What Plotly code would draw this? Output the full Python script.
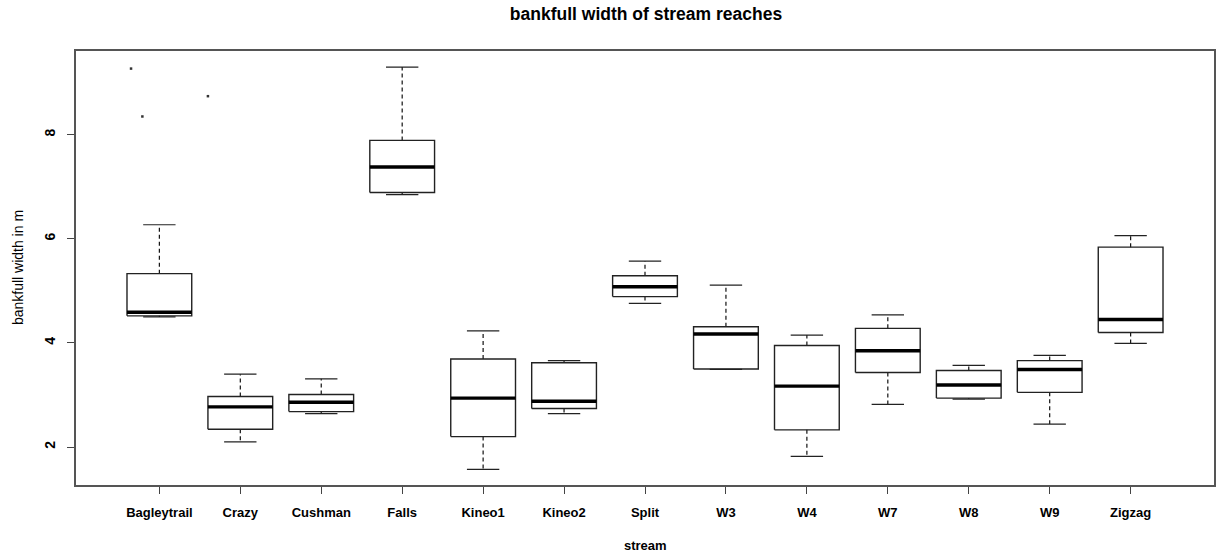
import plotly.graph_objects as go

# Bankfull width (m) summary per stream reach
streams = ["Bagleytrail", "Crazy", "Cushman", "Falls", "Kineo1", "Kineo2", "Split",
           "W3", "W4", "W7", "W8", "W9", "Zigzag"]
lower_whisker = [4.50, 2.10, 2.64, 6.85, 1.57, 2.64, 4.76, 3.49, 1.82, 2.82, 2.92, 2.44, 3.99]
q1 = [4.52, 2.34, 2.68, 6.89, 2.20, 2.74, 4.89, 3.50, 2.33, 3.43, 2.94, 3.05, 4.20]
median = [4.59, 2.77, 2.86, 7.38, 2.94, 2.88, 5.08, 4.17, 3.17, 3.85, 3.19, 3.49, 4.45]
q3 = [5.33, 2.97, 3.01, 7.89, 3.69, 3.62, 5.29, 4.31, 3.95, 4.28, 3.47, 3.66, 5.84]
upper_whisker = [6.27, 3.40, 3.31, 9.30, 4.23, 3.66, 5.57, 5.11, 4.15, 4.54, 3.57, 3.76, 6.06]
y_ticks = [2, 4, 6, 8]

# Stray points above the Bagleytrail / Crazy boxes (x in category units)
stray_x = [0.65, 0.79, 1.60]
stray_y = [9.27, 8.35, 8.74]

positions = list(range(1, len(streams) + 1))
BOX_HALF = 0.4
CAP_HALF = 0.2

box_x, box_y = [], []
med_x, med_y = [], []
wh_x, wh_y = [], []
cap_x, cap_y = [], []
for p, lo, a, m, b, hi in zip(positions, lower_whisker, q1, median, q3, upper_whisker):
    box_x += [p - BOX_HALF, p + BOX_HALF, p + BOX_HALF, p - BOX_HALF, p - BOX_HALF, None]
    box_y += [a, a, b, b, a, None]
    med_x += [p - BOX_HALF, p + BOX_HALF, None]
    med_y += [m, m, None]
    wh_x += [p, p, None, p, p, None]
    wh_y += [b, hi, None, a, lo, None]
    cap_x += [p - CAP_HALF, p + CAP_HALF, None, p - CAP_HALF, p + CAP_HALF, None]
    cap_y += [hi, hi, None, lo, lo, None]

fig = go.Figure()
fig.add_trace(go.Scatter(x=wh_x, y=wh_y, mode="lines",
                         line=dict(color="#111111", width=1.2, dash="4px,3px"),
                         hoverinfo="skip", showlegend=False))
fig.add_trace(go.Scatter(x=cap_x, y=cap_y, mode="lines",
                         line=dict(color="#222222", width=1.2),
                         hoverinfo="skip", showlegend=False))
fig.add_trace(go.Scatter(x=box_x, y=box_y, mode="lines",
                         line=dict(color="#222222", width=1.4),
                         hoverinfo="skip", showlegend=False))
fig.add_trace(go.Scatter(x=med_x, y=med_y, mode="lines",
                         line=dict(color="#000000", width=3.4),
                         hoverinfo="skip", showlegend=False))
fig.add_trace(go.Scatter(x=stray_x, y=stray_y, mode="markers",
                         marker=dict(color="#333333", size=2.5, symbol="square"),
                         hoverinfo="skip", showlegend=False))

font_family = "Liberation Sans, Arial, sans-serif"

fig.update_layout(
    width=1219, height=556,
    margin=dict(l=76, r=3, t=51, b=71),
    paper_bgcolor="white", plot_bgcolor="white",
    font=dict(family=font_family, color="black", size=13),
    title=dict(text="<b>bankfull width of stream reaches</b>",
               x=646 / 1219, xanchor="center", xref="container",
               y=1 - 14 / 556, yanchor="middle", yref="container",
               font=dict(size=17.5, family=font_family, color="black")),
    xaxis=dict(range=[-0.03, 14.03], tickmode="array", tickvals=positions,
               ticktext=[f"<b>{s}</b>" for s in streams],
               showgrid=False, zeroline=False,
               showline=True, mirror=True, linecolor="#555555", linewidth=1.5,
               ticks="outside", ticklen=7, tickcolor="#444444", tickwidth=1,
               ticklabelstandoff=8,
               tickfont=dict(size=13, family=font_family, color="black")),
    yaxis=dict(range=[1.27, 9.608], tickmode="array", tickvals=y_ticks,
               ticktext=[f"<b>{t}</b>" for t in y_ticks],
               showgrid=False, zeroline=False,
               showline=True, mirror=True, linecolor="#555555", linewidth=1.5,
               ticks="outside", ticklen=7, tickcolor="#444444", tickwidth=1,
               tickangle=-90, ticklabelstandoff=7,
               tickfont=dict(size=14, family=font_family, color="black")),
    annotations=[
        dict(text="<b>stream</b>", xref="paper", yref="paper", x=0.5, y=-(545 - 485) / 434,
             xanchor="center", yanchor="middle", showarrow=False,
             font=dict(size=13, family=font_family, color="black")),
        dict(text="bankfull width in m", xref="paper", yref="paper",
             x=(18 - 76) / 1140, y=0.5, textangle=-90,
             xanchor="center", yanchor="middle", showarrow=False,
             font=dict(size=14, family=font_family, color="black")),
    ],
)

fig.write_html("out.html")
